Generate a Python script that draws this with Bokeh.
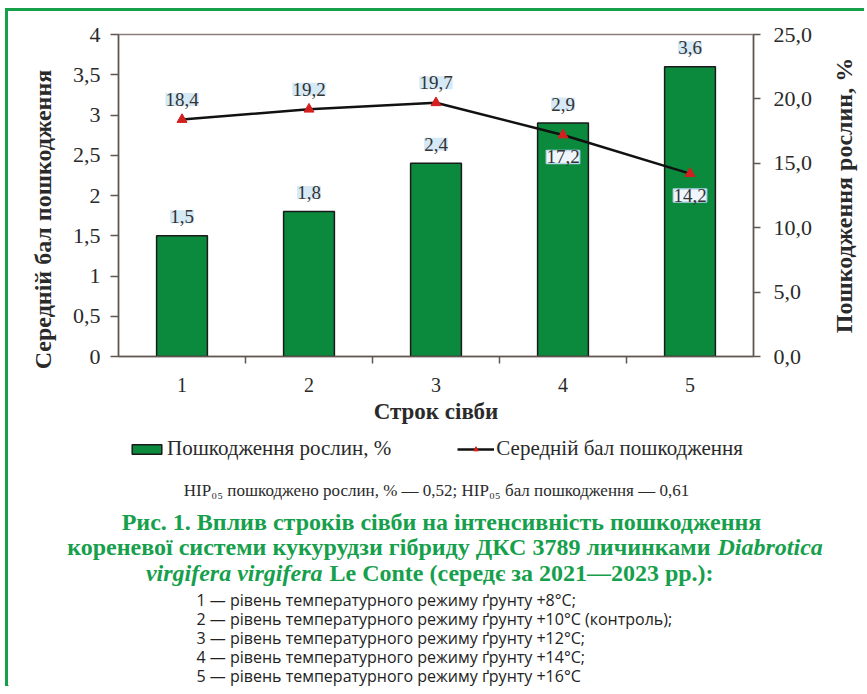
import math
from bokeh.plotting import figure
from bokeh.models import (Range1d, LinearAxis, FixedTicker, CustomJSTickFormatter,
                          ColumnDataSource, LabelSet, Legend, LegendItem, Plot)
from bokeh.layouts import column, row
from bokeh.core.properties import value
from bokeh.embed import file_html
from bokeh.resources import INLINE

# ---------------- data ----------------
categories = ["1", "2", "3", "4", "5"]
bar_values = [1.5, 1.8, 2.4, 2.9, 3.6]          # left axis (0-4)
line_values = [18.4, 19.2, 19.7, 17.2, 14.2]    # right axis (0-25)
left_ticks = [0, 0.5, 1, 1.5, 2, 2.5, 3, 3.5, 4]
right_ticks = [0, 5, 10, 15, 20, 25]
line_label_side = ["above", "above", "above", "below", "below"]

bar_name = "Пошкодження рослин, %"
line_name = "Середній бал пошкодження"
left_title = "Середній бал пошкодження"
right_title = "Пошкодження рослин, %"
x_title = "Строк сівби"
hir_text = "НІР₀₅ пошкоджено рослин, % — 0,52; НІР₀₅ бал пошкодження — 0,61"
caption_1 = "Рис. 1. Вплив строків сівби на інтенсивність пошкодження"
caption_2a = "кореневої системи кукурудзи гібриду ДКС 3789 личинками"
caption_2b = "Diabrotica"
caption_3a = "virgifera virgifera"
caption_3b = "Le Conte (середє за 2021—2023 рр.):"
notes = [
    "1 — рівень температурного режиму ґрунту +8°C;",
    "2 — рівень температурного режиму ґрунту +10°C (контроль);",
    "3 — рівень температурного режиму ґрунту +12°C;",
    "4 — рівень температурного режиму ґрунту +14°C;",
    "5 — рівень температурного режиму ґрунту +16°C",
]

# ---------------- styles / geometry ----------------
SERIF = "Liberation Serif"
GREEN_BAR = "#0b8a3e"
GREEN_TXT = "#16a04c"
AXIS_COL = "#5f5650"
TXT = "#2a2a2a"
BAR_LINE = "#1a1a1a"
LINE_COL = "#111111"
MARK_COL = "#d21f1f"
BORDER = 3
MARGIN_TOP, MARGIN_LEFT = 8, 5
X0 = MARGIN_LEFT + BORDER          # page x of the canvases' left edge
Y0 = MARGIN_TOP + BORDER           # page y of the top row
W = 856
H1, H2 = 420, 255
WL, WR = 52, 39                    # side title strips
WP = W - WL - WR                   # chart figure width
XP = X0 + WL                       # page x of chart figure
XR = XP + WP                       # page x of right strip
Y2 = Y0 + H1                       # page y of lower figure
FL, FR, FT, FB = 118 - XP, 753 - XP, 34 - Y0, 356 - Y0

HAS_FRAME_ALIGN = "frame_align" in Plot.properties()

def fmt(v):
    return f"{v:.1f}".replace(".", ",")

def text_fig(width, height):
    f = figure(width=width, height=height, x_range=Range1d(0, width),
               y_range=Range1d(height, 0), output_backend="svg", toolbar_location=None,
               tools="", min_border=0, x_axis_type=None, y_axis_type=None,
               outline_line_color=None, background_fill_color="white",
               border_fill_color="white")
    if HAS_FRAME_ALIGN:
        f.frame_align = False
    f.grid.visible = False
    return f

positions = [i + 1 for i in range(len(categories))]

# ---------------- chart ----------------
p = figure(width=WP, height=H1, x_range=Range1d(0.5, len(categories) + 0.5),
           y_range=Range1d(0, 4), output_backend="svg", toolbar_location=None, tools="",
           min_border_left=FL, min_border_right=WP - FR, min_border_top=FT,
           min_border_bottom=H1 - FB,
           background_fill_color="white", border_fill_color="white",
           outline_line_color="#8a817c", outline_line_width=1.5)
if HAS_FRAME_ALIGN:
    p.frame_align = False
p.extra_y_ranges = {"pct": Range1d(0, 25)}
p.grid.visible = False

xa = p.xaxis[0]
xa.ticker = FixedTicker(ticks=positions, minor_ticks=[q + 0.5 for q in positions[:-1]])
xa.major_label_overrides = {q: c for q, c in zip(positions, categories)}
xa.major_tick_out = 0
xa.major_tick_in = 0
xa.minor_tick_out = 7
xa.minor_tick_in = 0
xa.minor_tick_line_color = AXIS_COL
xa.minor_tick_line_width = 1.5
xa.axis_line_color = AXIS_COL
xa.axis_line_width = 1.5
xa.major_label_standoff = 14
xa.major_label_text_font = SERIF
xa.major_label_text_font_size = "20px"
xa.major_label_text_color = TXT
xa.axis_label = x_title
xa.axis_label_text_font = SERIF
xa.axis_label_text_font_style = "bold"
xa.axis_label_text_font_size = "23px"
xa.axis_label_text_color = TXT
xa.axis_label_standoff = 4

ya = p.yaxis[0]
ya.ticker = FixedTicker(ticks=left_ticks)
ya.formatter = CustomJSTickFormatter(code="""
  return (Math.abs(tick - Math.round(tick)) < 1e-9) ? tick.toFixed(0) : tick.toFixed(1).replace('.', ',');
""")
ya.major_tick_out = 8
ya.major_tick_in = 0
ya.minor_tick_out = 0
ya.minor_tick_in = 0
ya.major_tick_line_color = AXIS_COL
ya.major_tick_line_width = 1.5
ya.axis_line_color = AXIS_COL
ya.axis_line_width = 1.5
ya.major_label_standoff = 10
ya.major_label_text_font = SERIF
ya.major_label_text_font_size = "22px"
ya.major_label_text_color = TXT

ra = LinearAxis(y_range_name="pct", ticker=FixedTicker(ticks=right_ticks),
                formatter=CustomJSTickFormatter(code="return tick.toFixed(1).replace('.', ',');"))
ra.major_tick_out = 7
ra.major_tick_in = 0
ra.minor_tick_out = 0
ra.minor_tick_in = 0
ra.major_tick_line_color = AXIS_COL
ra.major_tick_line_width = 1.5
ra.axis_line_color = AXIS_COL
ra.axis_line_width = 1.5
ra.major_label_standoff = 13
ra.major_label_text_font = SERIF
ra.major_label_text_font_size = "22px"
ra.major_label_text_color = TXT
p.add_layout(ra, "right")

bar_src = ColumnDataSource(dict(x=positions, top=bar_values,
                                lab=[fmt(v) for v in bar_values]))
bar_style = dict(width=0.4, fill_color=GREEN_BAR, line_color=BAR_LINE, line_width=1.5)
p.vbar(x="x", top="top", source=bar_src, **bar_style)

line_src = ColumnDataSource(dict(x=positions, y=line_values))
line_style = dict(line_color=LINE_COL, line_width=2.5)
mark_style = dict(marker="triangle", size=10, fill_color=MARK_COL, line_color=MARK_COL)
p.line(x="x", y="y", source=line_src, y_range_name="pct", **line_style)
p.scatter(x="x", y="y", source=line_src, y_range_name="pct", **mark_style)

lab_kw = dict(text_font=value(SERIF), text_font_size="19px", text_color="#333333",
              text_align="center", text_baseline="middle")
p.add_layout(LabelSet(x="x", y="top", text="lab", source=bar_src, y_offset=19,
                      background_fill_color="#d3e8f5", background_fill_alpha=0.95, **lab_kw))

def side_src(side):
    idx = [i for i, s in enumerate(line_label_side) if s == side]
    return ColumnDataSource(dict(x=[positions[i] for i in idx],
                                 y=[line_values[i] for i in idx],
                                 lab=[fmt(line_values[i]) for i in idx]))

p.add_layout(LabelSet(x="x", y="y", text="lab", source=side_src("above"), y_offset=20,
                      y_range_name="pct", background_fill_color="#d3e8f5",
                      background_fill_alpha=0.95, **lab_kw))
p.add_layout(LabelSet(x="x", y="y", text="lab", source=side_src("below"), y_offset=-22,
                      y_range_name="pct", background_fill_color="#eef6fc",
                      background_fill_alpha=1.0, border_line_color="#b9d6ec",
                      border_line_width=1.5, **lab_kw))

# ---------------- side strips with the axis titles ----------------
fl = text_fig(WL, H1)
fl.text(x=[42 - X0], y=[219 - Y0], text=[left_title], angle=math.pi / 2,
        text_align="center", text_baseline="middle", text_font=value(SERIF),
        text_font_style="bold", text_font_size="24px", text_color=TXT)
fr = text_fig(WR, H1)
fr.text(x=[843 - XR], y=[195 - Y0], text=[right_title], angle=math.pi / 2,
        text_align="center", text_baseline="middle", text_font=value(SERIF),
        text_font_style="bold", text_font_size="24px", text_color=TXT)

# ---------------- lower figure: legend, note, caption ----------------
q = text_fig(W, H2)
# legend sample renderers: same data and styles as the chart, mapped off-canvas
q.extra_x_ranges = {"off": Range1d(1000, 1001)}
q.extra_y_ranges = {"off": Range1d(1000, 1001)}
lg_bar = q.vbar(x="x", top="top", source=bar_src, x_range_name="off",
                y_range_name="off", **bar_style)
lg_line = q.line(x="x", y="y", source=line_src, x_range_name="off",
                 y_range_name="off", **line_style)
lg_mark = q.scatter(x="x", y="y", source=line_src, x_range_name="off",
                    y_range_name="off", **mark_style)
legend = Legend(items=[LegendItem(label=bar_name, renderers=[lg_bar]),
                       LegendItem(label=line_name, renderers=[lg_line, lg_mark])],
                orientation="horizontal", location=(128 - X0, H2 - (449 - Y2) - 12),
                label_text_font=SERIF, label_text_font_size="21px",
                label_text_color=TXT, glyph_width=37, glyph_height=12,
                spacing=66, label_standoff=2, padding=0, margin=0,
                border_line_color=None, background_fill_alpha=0)
q.add_layout(legend)

def add_text(text, page_x, page_y, align, size, font=SERIF, style="normal", color=TXT):
    q.text(x=[page_x - X0], y=[page_y - Y2], text=[text], text_align=align,
           text_baseline="middle", text_font=value(font), text_font_size=size,
           text_font_style=style, text_color=color)

add_text(hir_text, 436, 490, "center", "17px")
add_text(caption_1, 441, 521, "center", "24px", style="bold", color=GREEN_TXT)
add_text(caption_2a, 710, 546, "right", "24px", style="bold", color=GREEN_TXT)
add_text(caption_2b, 717, 546, "left", "24px", style="bold italic", color=GREEN_TXT)
add_text(caption_3a, 322, 572, "right", "24px", style="bold italic", color=GREEN_TXT)
add_text(caption_3b, 329, 572, "left", "24px", style="bold", color=GREEN_TXT)
for i, t in enumerate(notes):
    add_text(t, 196, 599 + 19 * i, "left", "16px", font="Open Sans", color="#222222")

layout = column(row(fl, p, fr, spacing=0), q, spacing=0,
                margin=(MARGIN_TOP, 0, 0, MARGIN_LEFT),
                styles={"border-left": f"{BORDER}px solid {GREEN_TXT}",
                        "border-top": f"{BORDER}px solid {GREEN_TXT}"})

open("out.html", "w").write(file_html(layout, INLINE))
